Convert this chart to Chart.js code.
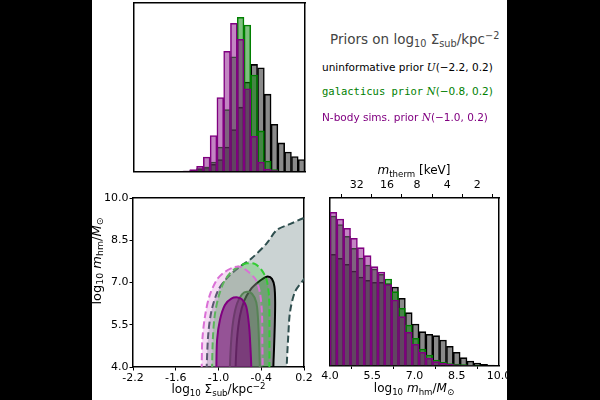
<!DOCTYPE html>
<html><head><meta charset="utf-8">
<script src="https://cdn.jsdelivr.net/npm/chart.js@4/dist/chart.umd.min.js"></script>
<style>
html,body{margin:0;padding:0;background:#fff;}
#page{position:relative;width:600px;height:400px;overflow:hidden;background:#fff;font-family:"DejaVu Sans",sans-serif;}
canvas{position:absolute;}
.band{position:absolute;top:0;height:400px;background:#000;z-index:10;}
.lbl{position:absolute;white-space:nowrap;line-height:1;color:#000;font-size:12px;transform:translate(-50%,-50%);}
.lft{position:absolute;white-space:nowrap;line-height:1;transform:translateY(-50%);}
.rot{transform:translate(-50%,-50%) rotate(-90deg);}
sub,sup{font-size:72%;line-height:0;}
sub{vertical-align:-0.3em;}
sup{vertical-align:0.5em;}
.cal{font-family:"DejaVu Serif",serif;font-style:italic;}
.mono{font-family:"DejaVu Sans Mono",monospace;}
</style></head>
<body><div id="page">
<canvas id="cTop" width="180" height="176" style="left:130px;top:0px"></canvas>
<canvas id="cCont" width="222" height="215" style="left:92px;top:185px"></canvas>
<canvas id="cMhm" width="205" height="250" style="left:312px;top:150px"></canvas>

<div class="lft" style="left:330px;top:40px;font-size:13.5px;color:#444">Priors on log<sub>10</sub> Σ<sub>sub</sub>/kpc<sup>−2</sup></div>
<div class="lft" style="left:322px;top:66.5px;font-size:10.5px;color:#000">uninformative prior <span class="cal">U</span>(−2.2, 0.2)</div>
<div class="lft" style="left:322px;top:91px;font-size:10.5px;color:#008000"><span class="mono">galacticus prior</span> <span class="cal">N</span>(−0.8, 0.2)</div>
<div class="lft" style="left:322px;top:116.5px;font-size:10.5px;color:#800080">N-body sims. prior <span class="cal">N</span>(−1.0, 0.2)</div>

<div class="lbl rot" style="left:95.5px;top:261px;font-size:13px">log<sub>10</sub> <i>m</i><sub>hm</sub>/<i>M</i><sub>⊙</sub></div>
<div class="lbl" style="left:218.5px;top:389px">log<sub>10</sub> Σ<sub>sub</sub>/kpc<sup>−2</sup></div>
<div class="lbl" style="left:414px;top:388px">log<sub>10</sub> <i>m</i><sub>hm</sub>/<i>M</i><sub>⊙</sub></div>
<div class="lbl" style="left:414px;top:170px"><i>m</i><sub>therm</sub> [keV]</div>

<div class="band" style="left:0;width:92px"></div>
<div class="band" style="left:507px;width:93px"></div>
</div>
<script>
// ---------- data ----------
const sigmaBinCenters = [-1.4645, -1.3694, -1.2743, -1.1792, -1.0841, -0.989, -0.8939, -0.7988, -0.7037, -0.6086, -0.5135, -0.4184, -0.3233, -0.2282, -0.1331, -0.038, 0.0571, 0.1522];
const sigmaUninformative = [0.3, 1, 2.7, 4.3, 7, 11.7, 24.3, 41.7, 64, 89, 106.7, 103.3, 77, 47, 28.3, 19.3, 14.7, 11.7];
const sigmaGalacticus = [0, 0.3, 1.7, 4.3, 9.3, 24.3, 61.7, 114.3, 153.7, 146, 96, 40.3, 10.3, 1.7, 0, 0, 0, 0];
const sigmaNbody = [0.3, 1.7, 5, 14.3, 35.7, 73.7, 119.7, 147.7, 131.7, 82.3, 35, 9.3, 2.3, 0.7, 0, 0, 0, 0];

const mhmBinCenters = [4.1216, 4.3648, 4.608, 4.8512, 5.0944, 5.3376, 5.5808, 5.824, 6.0672, 6.3104, 6.5536, 6.7968, 7.04, 7.2832, 7.5264, 7.7696, 8.0128, 8.256, 8.4992, 8.7424, 8.9856, 9.2288, 9.472, 9.7152];
const mhmUninformative = [111.2, 107.2, 101.2, 94.5, 88.5, 85.2, 83.2, 83.2, 82, 78.5, 67.2, 52.8, 41.5, 33.8, 31.2, 29.8, 25.5, 19.2, 13.2, 7.8, 4.5, 2.5, 1.2, 0.4];
const mhmGalacticus = [149.5, 141, 129.2, 117.2, 107.5, 100.5, 96.5, 91.2, 86.5, 73.8, 57.2, 40.5, 27.2, 16.5, 10.5, 5.5, 3.2, 2, 1.5, 0.8, 0.4, 0.2, 0, 0];
const mhmNbody = [153.2, 146.5, 137.2, 127.2, 117.8, 109.8, 98.8, 93.5, 81, 65.5, 48.8, 33.2, 21.2, 13.2, 7.2, 3.8, 2.2, 1.2, 0.7, 0.3, 0.2, 0, 0, 0];

const sigmaTicks = [-2.2, -1.6, -1.0, -0.4, 0.2];
const mhmTicks = [4.0, 5.5, 7.0, 8.5, 10.0];
const thermTickPos = [4.95, 6.02, 7.09, 8.16, 9.23];
const thermTickLabels = ['32', '16', '8', '4', '2'];

// contour outlines (log10 Sigma_sub, log10 m_hm)
const u2x = [-1.17, -1.166, -1.143, -1.096, -1.003, -0.862, -0.698, -0.534, -0.324, -0.183, 0.0, 0.19, 0.35, 0.35, 0.19, 0.074, 0.004, -0.02, -0.043, -0.045, -1.17];
const u2y = [3.5, 4.0, 5.19, 6.02, 6.73, 7.21, 7.56, 7.86, 8.39, 8.86, 9.07, 9.28, 9.4, 7.65, 7.09, 6.67, 5.96, 5.14, 4.01, 3.5, 3.5];
const u1x = [-0.76, -0.76, -0.74, -0.70, -0.64, -0.55, -0.45, -0.37, -0.31, -0.25, -0.215, -0.205, -0.21, -0.22, -0.23, -0.23, -0.76];
const u1y = [3.5, 4.0, 5.0, 5.8, 6.35, 6.75, 7.0, 7.15, 7.21, 7.13, 6.85, 6.3, 5.5, 4.7, 4.0, 3.5, 3.5];
const g2x = [-1.09, -1.09, -1.08, -1.055, -1.005, -0.933, -0.839, -0.722, -0.604, -0.49, -0.394, -0.324, -0.291, -0.285, -0.285, -0.285, -1.09];
const g2y = [3.5, 4.0, 4.96, 5.79, 6.44, 6.97, 7.33, 7.56, 7.68, 7.66, 7.44, 7.09, 6.5, 5.55, 4.0, 3.5, 3.5];
const g1x = [-0.84, -0.84, -0.82, -0.79, -0.74, -0.67, -0.6, -0.53, -0.47, -0.445, -0.43, -0.42, -0.42, -0.84];
const g1y = [3.5, 4.0, 5.0, 5.7, 6.25, 6.58, 6.67, 6.6, 6.3, 5.7, 4.8, 4.0, 3.5, 3.5];
const n2x = [-1.24, -1.236, -1.227, -1.19, -1.129, -1.025, -0.909, -0.77, -0.68, -0.582, -0.474, -0.417, -0.39, -0.385, -0.38, -0.38, -1.24];
const n2y = [3.5, 4.0, 4.96, 5.79, 6.5, 7.09, 7.38, 7.55, 7.55, 7.38, 7.09, 6.62, 5.9, 4.96, 4.0, 3.5, 3.5];
const n1x = [-1.03, -1.03, -1.02, -0.98, -0.91, -0.82, -0.73, -0.67, -0.61, -0.57, -0.55, -0.54, -0.54, -1.03];
const n1y = [3.5, 4.0, 4.96, 5.67, 6.2, 6.43, 6.47, 6.4, 6.14, 5.43, 4.6, 4.0, 3.5, 3.5];

// ---------- helpers ----------
Chart.defaults.font.family = 'DejaVu Sans';
Chart.defaults.font.size = 11;
Chart.defaults.color = '#000';

const pairs = (xs, ys) => xs.map((x, i) => ({x: x, y: ys[i]}));
const frameAxis = (pos) => ({
  position: pos, display: true,
  grid: {display: false, drawTicks: false},
  ticks: {display: false},
  border: {display: true, color: '#000', width: 1.5},
  afterFit: s => { if (pos === 'top' || pos === 'bottom') s.height = 0; else s.width = 0; }
});
const tickAxis = (pos, min, max, vals, labels, size, tl, pad) => ({
  type: 'linear', position: pos, min: min, max: max, offset: false,
  grid: {display: true, drawOnChartArea: false, drawTicks: true, tickLength: tl, tickColor: '#000', tickWidth: 1, color: '#000'},
  border: {display: true, color: '#000', width: 1.5},
  ticks: {padding: pad, maxRotation: 0, autoSkip: false, font: {size: 11}, color: '#000',
    callback: (v, i) => labels ? labels[i] : Number(v).toFixed(1)},
  afterBuildTicks: s => { s.ticks = vals.map(v => ({value: v})); },
  afterFit: s => { if (pos === 'top' || pos === 'bottom') s.height = size; else s.width = size; }
});
const base = {responsive: false, animation: false, events: [],
  plugins: {legend: {display: false}, tooltip: {enabled: false}}};
const barStyle = {grouped: false, barPercentage: 1, categoryPercentage: 1, borderWidth: 0.9};

// ---------- top histogram: Sigma_sub ----------
new Chart(document.getElementById('cTop'), {
  type: 'bar',
  data: {labels: sigmaBinCenters, datasets: [
    {data: pairs(sigmaBinCenters, sigmaUninformative), backgroundColor: 'rgba(0,0,0,0.46)', borderColor: '#000', order: 3},
    {data: pairs(sigmaBinCenters, sigmaGalacticus), backgroundColor: 'rgba(0,128,0,0.5)', borderColor: '#008000', order: 2},
    {data: pairs(sigmaBinCenters, sigmaNbody), backgroundColor: 'rgba(128,0,128,0.48)', borderColor: '#800080', order: 1}
  ]},
  options: Object.assign({}, base, {
    layout: {padding: {left: 4, right: 5, top: 3, bottom: 4.7}},
    datasets: {bar: barStyle},
    scales: {
      x: Object.assign(frameAxis('bottom'), {type: 'linear', min: -2.2, max: 0.2, offset: false}),
      y: Object.assign(frameAxis('left'), {min: 0, max: 168}),
      x2: Object.assign(frameAxis('top'), {type: 'linear', min: 0, max: 1}),
      y2: Object.assign(frameAxis('right'), {min: 0, max: 1})
    }
  })
});

// ---------- contour panel ----------
function contour(xs, ys, fillCol, lineCol, dashed, ord) {
  return {data: pairs(xs, ys), fill: 'shape', backgroundColor: fillCol, borderColor: lineCol,
    borderWidth: 2, borderDash: dashed ? [7, 3.5] : [], pointRadius: 0, tension: 0.3, order: ord};
}
new Chart(document.getElementById('cCont'), {
  type: 'line',
  data: {datasets: [
    contour(u2x, u2y, 'rgba(47,79,79,0.25)', '#2F4F4F', true, 6),
    contour(u1x, u1y, 'rgba(0,0,0,0.32)', '#000', false, 5),
    contour(g2x, g2y, 'rgba(50,205,50,0.28)', '#32CD32', true, 4),
    contour(g1x, g1y, 'rgba(0,100,0,0.3)', '#2a8a2a', false, 3),
    contour(n2x, n2y, 'rgba(218,112,214,0.25)', '#DA70D6', true, 2),
    contour(n1x, n1y, 'rgba(128,0,128,0.55)', '#800080', false, 1)
  ]},
  options: Object.assign({}, base, {
    layout: {padding: {left: 0, right: 10, top: 13, bottom: 0}},
    elements: {line: {capBezierPoints: false}},
    scales: {
      x: tickAxis('bottom', -2.2, 0.2, sigmaTicks, null, 33, 3.5, 1),
      y: tickAxis('left', 4, 10, mhmTicks, null, 41, 3.5, 1),
      x2: Object.assign(frameAxis('top'), {type: 'linear', min: 0, max: 1}),
      y2: Object.assign(frameAxis('right'), {min: 0, max: 1})
    }
  })
});

// ---------- m_hm histogram ----------
new Chart(document.getElementById('cMhm'), {
  type: 'bar',
  data: {labels: mhmBinCenters, datasets: [
    {data: pairs(mhmBinCenters, mhmUninformative), backgroundColor: 'rgba(0,0,0,0.46)', borderColor: '#000', order: 3},
    {data: pairs(mhmBinCenters, mhmGalacticus), backgroundColor: 'rgba(0,128,0,0.5)', borderColor: '#008000', order: 2},
    {data: pairs(mhmBinCenters, mhmNbody), backgroundColor: 'rgba(128,0,128,0.48)', borderColor: '#800080', order: 1}
  ]},
  options: Object.assign({}, base, {
    layout: {padding: {left: 18, right: 18, top: 0, bottom: 0}},
    datasets: {bar: barStyle},
    scales: {
      x: tickAxis('bottom', 4, 10, mhmTicks, null, 34.5, 3.5, 1),
      x2: tickAxis('top', 4, 10, thermTickPos, thermTickLabels, 48, 4, 2),
      y: Object.assign(frameAxis('left'), {min: 0, max: 167.5}),
      y2: Object.assign(frameAxis('right'), {min: 0, max: 1})
    }
  })
});
</script>
</body></html>
